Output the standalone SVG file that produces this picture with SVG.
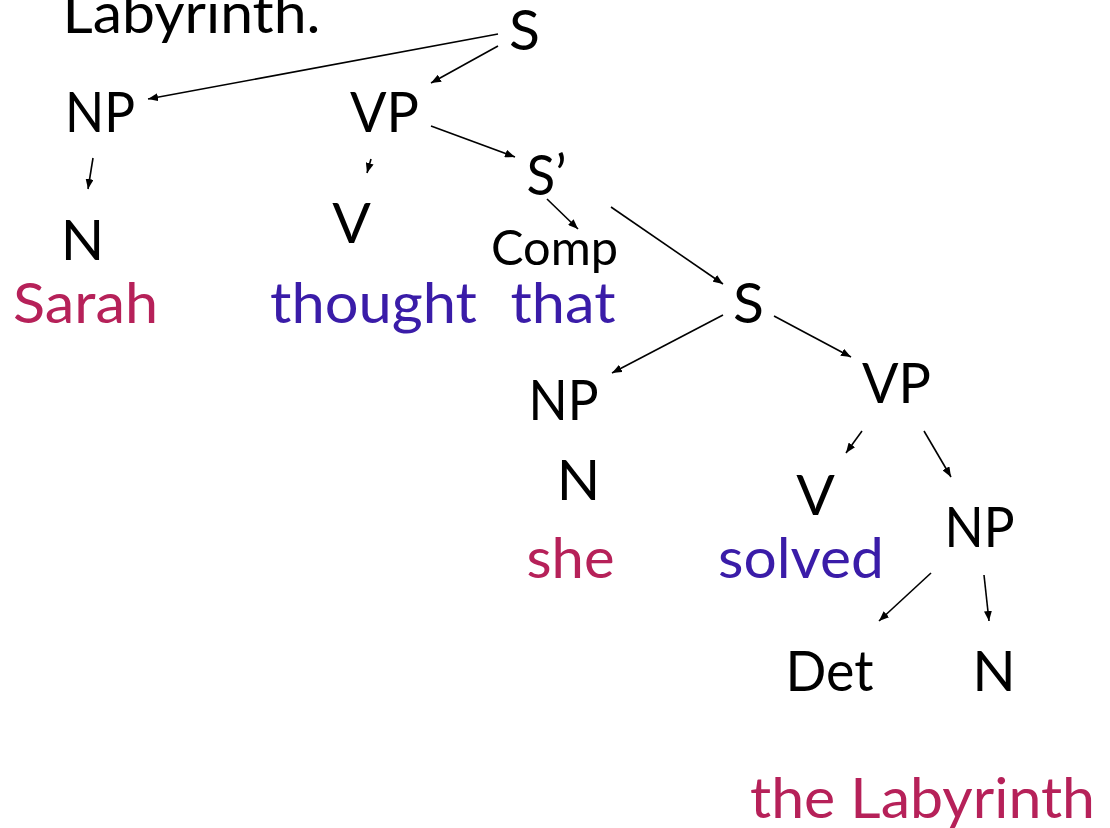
<svg xmlns="http://www.w3.org/2000/svg" width="1110" height="828" viewBox="0 0 1110 828">
<style>
text{font-family:Lato,"Open Sans","Liberation Sans",sans-serif;font-size:57px;text-anchor:middle;fill:#000}
.small{font-size:49px}
.red{fill:#B62159}
.blue{fill:#3A1CA8}
.conn line{stroke:#000;stroke-width:1.6;marker-end:url(#ah)}
</style>
<defs>
<marker id="ah" markerUnits="userSpaceOnUse" markerWidth="10" markerHeight="8" refX="10" refY="4" orient="auto">
<path d="M0,0 L10,4 L0,8 z" fill="#000"/>
</marker>
</defs>
<rect width="1110" height="828" fill="#fff"/>
<g id="title"><text x="191.5" y="33" textLength="258" lengthAdjust="spacingAndGlyphs">Labyrinth.</text></g>
<g id="S1"><text x="524.5" y="50">S</text></g>
<g id="NP1"><text x="100" y="132" textLength="70" lengthAdjust="spacingAndGlyphs">NP</text></g>
<g id="VP1"><text x="384.5" y="132" textLength="69" lengthAdjust="spacingAndGlyphs">VP</text></g>
<g id="N1"><text x="82.5" y="260">N</text></g>
<g id="Sarah"><text class="red" x="85.5" y="323" textLength="145" lengthAdjust="spacingAndGlyphs">Sarah</text></g>
<g id="V1"><text x="351.5" y="243">V</text></g>
<g id="thought"><text class="blue" x="373.5" y="323" textLength="207" lengthAdjust="spacingAndGlyphs">thought</text></g>
<g id="Sbar"><text x="546.5" y="195" textLength="40" lengthAdjust="spacingAndGlyphs">S’</text></g>
<g id="Comp"><text class="small" x="554.5" y="265" textLength="127" lengthAdjust="spacingAndGlyphs">Comp</text></g>
<g id="that"><text class="blue" x="563" y="323" textLength="105" lengthAdjust="spacingAndGlyphs">that</text></g>
<g id="S2"><text x="748.5" y="323">S</text></g>
<g id="NP2"><text x="563.5" y="420" textLength="70" lengthAdjust="spacingAndGlyphs">NP</text></g>
<g id="N2"><text x="578.5" y="500">N</text></g>
<g id="she"><text class="red" x="570.5" y="578" textLength="88" lengthAdjust="spacingAndGlyphs">she</text></g>
<g id="VP2"><text x="896.5" y="403" textLength="69" lengthAdjust="spacingAndGlyphs">VP</text></g>
<g id="V2"><text x="815.5" y="515">V</text></g>
<g id="solved"><text class="blue" x="801" y="578" textLength="166" lengthAdjust="spacingAndGlyphs">solved</text></g>
<g id="NP3"><text x="979.5" y="547" textLength="70" lengthAdjust="spacingAndGlyphs">NP</text></g>
<g id="Det"><text x="829.5" y="691" textLength="88" lengthAdjust="spacingAndGlyphs">Det</text></g>
<g id="N3"><text x="994" y="691">N</text></g>
<g id="theLabyrinth"><text class="red" x="922.5" y="818" textLength="345" lengthAdjust="spacingAndGlyphs">the Labyrinth</text></g>
<g id="connectors" class="conn">
<line x1="498" y1="34" x2="148" y2="99"/>
<line x1="498" y1="46" x2="431" y2="83"/>
<line x1="93" y1="158" x2="88" y2="189"/>
<line x1="371" y1="159" x2="367" y2="173"/>
<line x1="431" y1="126" x2="515" y2="157"/>
<line x1="547" y1="199" x2="578" y2="229"/>
<line x1="611" y1="207" x2="723" y2="284"/>
<line x1="723" y1="315" x2="612" y2="373"/>
<line x1="774" y1="316" x2="851" y2="357"/>
<line x1="862" y1="431" x2="846" y2="453"/>
<line x1="924" y1="431" x2="951" y2="477"/>
<line x1="931" y1="573" x2="879" y2="621"/>
<line x1="984" y1="575" x2="989" y2="621"/>
</g>
</svg>
